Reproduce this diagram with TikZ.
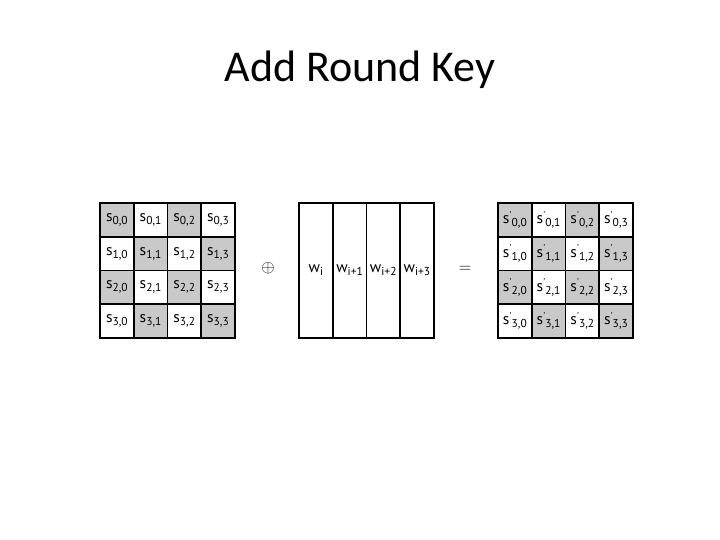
\documentclass[tikz,border=0pt]{standalone}
\usepackage{fontspec}
\setmainfont{PT Sans}
\newfontfamily\titlefont{Carlito}

% state entry, with or without a prime
\newcommand{\stent}[2]{s\raisebox{-3pt}{\fontsize{11.5}{11.5}\selectfont #1,#2}}
\newcommand{\stentp}[2]{s\raisebox{5.5pt}{\fontsize{10}{10}\selectfont\textquotesingle}\raisebox{-3pt}{\fontsize{11.5}{11.5}\selectfont #1,#2}}

\begin{document}
\begin{tikzpicture}[x=1pt, y=-1pt]
    \tikzstyle{every node}=[inner sep=0pt, text=black]
    \tikzstyle{cell}=[rectangle, draw=black, line width=1.6pt, minimum size=33.7pt, font=\fontsize{15.5}{15.5}\selectfont]
    \tikzstyle{keycol}=[rectangle, draw=black, line width=1.6pt, minimum width=33.7pt, minimum height=134.8pt, font=\fontsize{15.5}{15.5}\selectfont]
    \tikzstyle{shade}=[fill=black!21]

    \useasboundingbox (0,0) rectangle (720,540);

    \node[anchor=base, font=\titlefont\fontsize{44}{44}\selectfont] (title) at (360,82) {Add Round Key};

    % state before
    \foreach \r in {0,...,3} {
        \foreach \c in {0,...,3} {
            \pgfmathtruncatemacro{\odd}{mod(\r+\c,2)}
            \ifnum\odd=0
                \node[cell, shade] (s-\r-\c) at ({100+33.7*(\c+0.5)},{203+33.7*(\r+0.5)}) {\stent{\r}{\c}};
            \else
                \node[cell, fill=white] (s-\r-\c) at ({100+33.7*(\c+0.5)},{203+33.7*(\r+0.5)}) {\stent{\r}{\c}};
            \fi
        }
    }

    \node[font=\fontsize{18}{18}\selectfont] (xor) at (268,268) {$\oplus$};

    % round key words
    \node[keycol] (w0) at ({299+33.7*0.5},{203+67.4}) {w\raisebox{-3pt}{\fontsize{11.5}{11.5}\selectfont i}};
    \node[keycol] (w1) at ({299+33.7*1.5},{203+67.4}) {w\raisebox{-3pt}{\fontsize{11.5}{11.5}\selectfont i+1}};
    \node[keycol] (w2) at ({299+33.7*2.5},{203+67.4}) {w\raisebox{-3pt}{\fontsize{11.5}{11.5}\selectfont i+2}};
    \node[keycol] (w3) at ({299+33.7*3.5},{203+67.4}) {w\raisebox{-3pt}{\fontsize{11.5}{11.5}\selectfont i+3}};

    \node[font=\fontsize{18}{18}\selectfont] (eq) at (465,269) {$=$};

    % state after
    \foreach \r in {0,...,3} {
        \foreach \c in {0,...,3} {
            \pgfmathtruncatemacro{\odd}{mod(\r+\c,2)}
            \ifnum\odd=0
                \node[cell, shade] (t-\r-\c) at ({498+33.7*(\c+0.5)},{203+33.7*(\r+0.5)}) {\stentp{\r}{\c}};
            \else
                \node[cell, fill=white] (t-\r-\c) at ({498+33.7*(\c+0.5)},{203+33.7*(\r+0.5)}) {\stentp{\r}{\c}};
            \fi
        }
    }
\end{tikzpicture}
\end{document}
